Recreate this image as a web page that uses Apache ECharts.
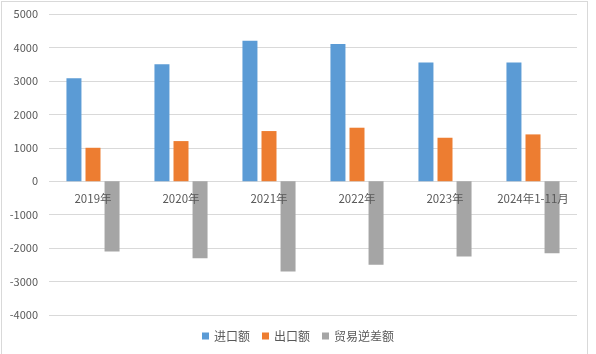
<!DOCTYPE html>
<html><head><meta charset="utf-8">
<script src="https://cdn.jsdelivr.net/npm/echarts@6/dist/echarts.min.js"></script>
<style>
html,body{margin:0;padding:0;background:#fff;}
#frame{position:absolute;left:1px;top:1px;width:587px;height:360px;border:1px solid #d9d9d9;box-sizing:border-box;}
#main{position:absolute;left:0;top:0;width:596px;height:354px;}
</style></head>
<body>
<div id="frame"></div>
<div id="main"></div>
<script>
var categories = ['2019年','2020年','2021年','2022年','2023年','2024年1-11月'];
var importValues = [3080, 3500, 4200, 4100, 3550, 3550];
var exportValues = [1000, 1200, 1500, 1600, 1300, 1400];
var deficitValues = [-2100, -2300, -2700, -2500, -2250, -2150];
var seriesNames = ['进口额','出口额','贸易逆差额'];

var yMin = -4000, yMax = 5000;
var gridTop = 14, gridBottom = 39, chartH = 354;
var plotH = chartH - gridTop - gridBottom;
// move category labels up so they sit just below the zero line
var zeroOffset = -plotH * (0 - yMin) / (yMax - yMin);

var chart = echarts.init(document.getElementById('main'));
var font = '"Microsoft YaHei","Noto Sans CJK SC",sans-serif';
function bar(name, data, color){
  return {name:name, type:'bar', data:data, barWidth:15, barGap:'27%',
    itemStyle:{color:color}};
}
chart.setOption({
  animation:false,
  textStyle:{fontFamily:font},
  grid:{left:49, right:19, top:gridTop, bottom:gridBottom},
  legend:{bottom:7, left:'center', itemWidth:7, itemHeight:7, itemGap:12,
    icon:'rect', textStyle:{color:'#595959', fontSize:12, fontFamily:font},
    data:seriesNames},
  xAxis:{type:'category', data:categories, offset:zeroOffset, z:10,
    axisLine:{show:false, onZero:false},
    axisTick:{show:false},
    axisLabel:{color:'#595959', fontSize:11.5, margin:12, interval:0, fontFamily:font}},
  yAxis:{type:'value', min:yMin, max:yMax, interval:1000,
    axisLine:{show:false}, axisTick:{show:false},
    splitLine:{lineStyle:{color:'#d9d9d9'}},
    axisLabel:{color:'#595959', fontSize:11, margin:11, fontFamily:font,
      formatter:function(v){return String(v);}}},
  series:[
    bar(seriesNames[0], importValues, '#5B9BD5'),
    bar(seriesNames[1], exportValues, '#ED7D31'),
    bar(seriesNames[2], deficitValues, '#A5A5A5')
  ]
});
</script>
</body></html>
